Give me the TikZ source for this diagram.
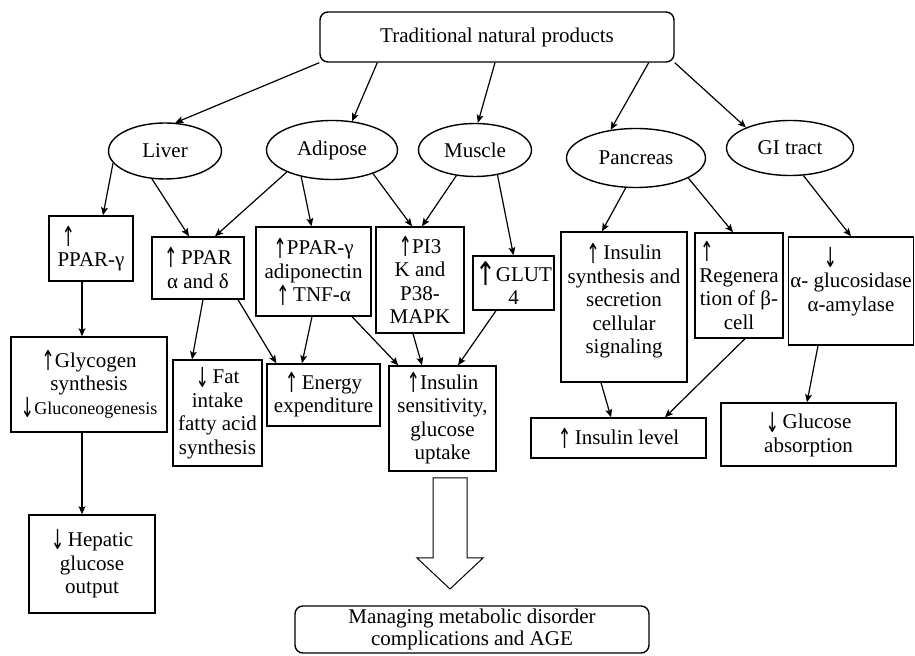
\documentclass[tikz,border=0pt]{standalone}
\usepackage{fontspec}
\setmainfont{Liberation Serif}
\newfontfamily\arrfont{DejaVu Sans}
\usetikzlibrary{arrows.meta,shapes.geometric,calc}

\newcommand{\arrup}{\raisebox{-0.35ex}{\arrfont\fontsize{9.5}{9.5}\selectfont\scalebox{0.85}[1.45]{↑}}}
\newcommand{\arrdn}{\raisebox{-0.35ex}{\arrfont\fontsize{9.5}{9.5}\selectfont\scalebox{0.85}[1.45]{↓}}}

\begin{document}
\begin{tikzpicture}[x=0.5pt,y=-0.5pt,>={Stealth[length=4pt,width=3.4pt,inset=0.8pt]},line width=0.7pt,
        font=\fontsize{10.5}{11.75}\selectfont,
        box/.style={draw,rectangle,align=center,inner sep=1pt},
        organ/.style={draw,ellipse,inner sep=0pt},
        boxsize/.style 2 args={minimum width=#1,minimum height=#2},
        conn/.style={->,line width=0.6pt}]

        \useasboundingbox (0,0) rectangle (915,656);

        % source and organs
        \node[box,rounded corners=4pt,boxsize={177pt}{25pt}] (top) at (497,37) {Traditional natural products};
        \node[organ,boxsize={56.5pt}{28pt}] (liver) at (165,151) {Liver};
        \node[organ,boxsize={65.5pt}{29.5pt}] (adipose) at (332,150) {Adipose};
        \node[organ,boxsize={56.5pt}{26.5pt}] (muscle) at (475,150) {Muscle};
        \node[organ,boxsize={69.5pt}{29.5pt}] (pancreas) at (636,158) {Pancreas};
        \node[organ,boxsize={63.5pt}{27.5pt}] (gi) at (790,148) {GI tract};

        % first row of effects
        \node[box,boxsize={42pt}{32.5pt}] (ppg) at (91,248.5) {\makebox[3.4em][l]{\hspace{0.3em}\arrup}\\PPAR-γ};
        \node[box,boxsize={46pt}{31pt}] (ppad) at (198,268) {\arrup\,PPAR\\α and δ};
        \node[box,boxsize={57.5pt}{44.5pt}] (ppadi) at (313.5,271.5) {\arrup PPAR-γ\\adiponectin\\\arrup\,TNF-α};
        \node[box,boxsize={44pt}{53pt}] (pik) at (420,280) {\arrup PI3\\K and\\P38-\\MAPK};
        \node[box,boxsize={39.5pt}{27pt}] (glut) at (513.5,283) {\raisebox{-0.4ex}{\arrfont\fontsize{12.5}{12.5}\selectfont\scalebox{1}[1.3]{↑}}GLUT\\4};
        \node[box,boxsize={63pt}{75pt}] (inss) at (624,307) {\arrup\,Insulin\\synthesis and\\secretion\\cellular\\signaling\\[-3pt]\mbox{}};
        \node[box,boxsize={44pt}{52.5pt}] (regen) at (739,285.5) {\makebox[3.7em][l]{\arrup}\\Regenera\\tion of β-\\cell};
        \node[box,boxsize={62pt}{54pt}] (agluc) at (851,291) {\makebox[2.6em][l]{\arrdn}\\α- glucosidase\\α-amylase\\\mbox{}};

        % second row of effects
        \node[box,boxsize={78pt}{47.5pt}] (glyc) at (89,384.5) {\arrup Glycogen\\synthesis\\{\fontsize{9}{10}\selectfont\arrdn Gluconeogenesis}};
        \node[box,boxsize={44.5pt}{53pt}] (fat) at (217.5,413) {\arrdn\,Fat\\intake\\fatty acid\\synthesis};
        \node[box,boxsize={56.5pt}{31pt}] (energy) at (323.5,395) {\arrup\,Energy\\expenditure};
        \node[box,boxsize={53.5pt}{52.5pt}] (inssens) at (442.5,418.5) {\arrup Insulin\\sensitivity,\\glucose\\uptake};
        \node[box,boxsize={87.5pt}{20pt}] (inslev) at (618.5,438) {\arrup\,Insulin level};
        \node[box,boxsize={87.5pt}{31.5pt}] (gabs) at (808.5,434.5) {\arrdn\,Glucose\\absorption};
        \node[box,boxsize={63pt}{49pt}] (hep) at (92,564) {\arrdn\,Hepatic\\glucose\\output};

        % outcome
        \node[box,rounded corners=4pt,inner sep=0pt,boxsize={177pt}{23.5pt},font=\fontsize{10.5}{11}\selectfont] (manage) at (472,629.5) {Managing metabolic disorder\\complications and AGE};
        \coordinate (bigtop) at (450,478);
        \draw[line width=0.5pt] (bigtop) ++(-17,0) -- ++(34,0) -- ++(0,80) -- ++(16,0) -- ++(-33,31) -- ++(-33,-31) -- ++(16,0) -- cycle;

        % top to organs
        \draw[conn] (top.south west) -- (liver.70);
        \draw[conn] ($(top.south west)+(58,0)$) -- (adipose.55);
        \draw[conn] ($(top.south)+(-2,0)$) -- (muscle.84);
        \draw[conn] ($(top.south east)+(-26,0)$) -- (pancreas.132);
        \draw[conn] (top.south east) -- (gi.155);

        % organs to effects
        \draw[conn] (liver.193) -- ($(ppg.north)+(12,0)$);
        \draw[conn] (liver.245) -- ($(ppad.north)+(-9,0)$);
        \draw[conn] (adipose.206) -- ($(ppad.north)+(17,0)$);
        \draw[conn] (adipose.221) -- ($(ppadi.north)+(-2,0)$);
        \draw[conn] (adipose.330) -- ($(pik.north)+(-8,0)$);
        \draw[conn] (muscle.234) -- ($(pik.north)+(2,0)$);
        \draw[conn] (muscle.312) -- (glut.north);
        \draw[conn] (pancreas.251) -- ($(inss.north)+(-22,0)$);
        \draw[conn] (pancreas.339) -- ($(regen.north)+(-6,0)$);
        \draw[conn] (gi.296) -- (agluc.north);

        % effects to outcomes
        \draw[conn] ($(ppg.south)+(-9,0)$) -- ($(glyc.north)+(-7,0)$);
        \draw[conn] ($(glyc.south)+(-7,0)$) -- ($(hep.north)+(-10,0)$);
        \draw[conn] ($(ppad.south)+(5,0)$) -- ($(fat.north)+(-25.5,0)$);
        \draw[conn] ($(ppad.south)+(40,0)$) -- ($(energy.north west)+(10,0)$);
        \draw[conn] ($(ppadi.south)+(-1.5,0)$) -- ($(energy.north)+(-21.5,0)$);
        \draw[conn] ($(ppadi.south)+(38.5,0)$) -- ($(inssens.north west)+(10,0)$);
        \draw[conn] ($(pik.south)+(-7,0)$) -- ($(inssens.north)+(-20.5,0)$);
        \draw[conn] ($(glut.south)+(-17.5,0)$) -- ($(inssens.north)+(15.5,0)$);
        \draw[conn] ($(inss.south)+(-23,0)$) -- ($(inslev.north)+(-7.5,0)$);
        \draw[conn] ($(regen.south)+(6,0)$) -- ($(inslev.north)+(46.5,0)$);
        \draw[conn] ($(agluc.south)+(-33,0)$) -- ($(gabs.north)+(-1.5,0)$);
      \end{tikzpicture}
\end{document}
